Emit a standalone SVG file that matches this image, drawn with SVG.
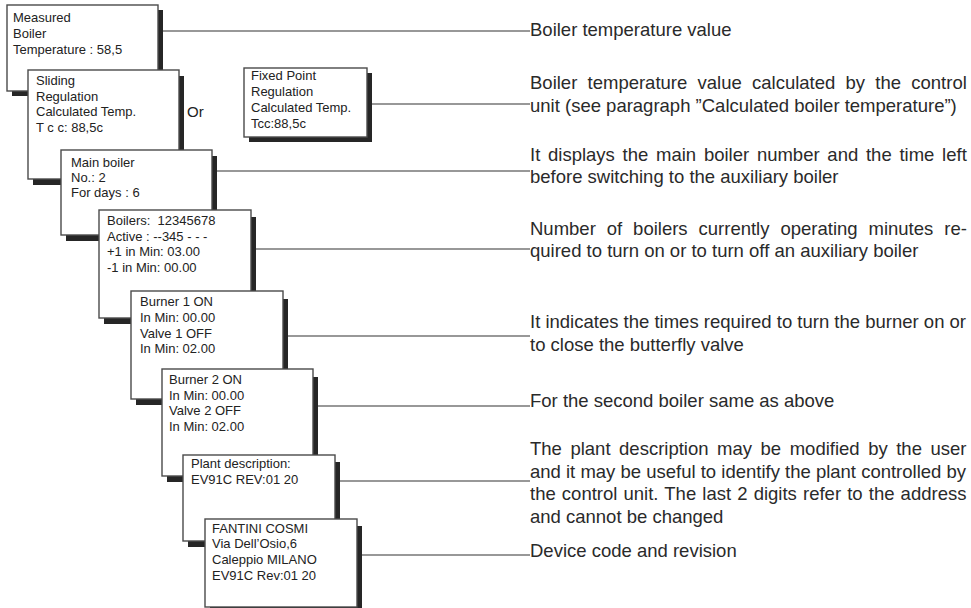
<svg xmlns="http://www.w3.org/2000/svg" width="971" height="608" viewBox="0 0 971 608">
<style>
  .shadow { fill: #262626; }
  .box { fill: #ffffff; stroke: #4a4a4a; stroke-width: 1.4; }
  .bt { font-family: "Liberation Sans", Arial, sans-serif; font-size: 13px; fill: #222; white-space: pre; }
  .note { font-family: "Liberation Sans", Arial, sans-serif; font-size: 18.5px; fill: #2a2a2a; }
  .conn line { stroke: #333; stroke-width: 1.1; }
</style>
<rect width="971" height="608" fill="#ffffff"/>

<g id="connectors" class="conn">
  <line x1="163" y1="31" x2="530" y2="31"/>
  <line x1="372" y1="104" x2="530" y2="104"/>
  <line x1="217" y1="171" x2="530" y2="171"/>
  <line x1="256" y1="249" x2="530" y2="249"/>
  <line x1="288" y1="336" x2="530" y2="336"/>
  <line x1="318" y1="406" x2="530" y2="406"/>
  <line x1="340" y1="481" x2="530" y2="481"/>
  <line x1="362" y1="555" x2="530" y2="555"/>
</g>

<g id="measured">
  <rect class="shadow" x="12" y="10" width="151" height="86"/>
  <rect class="box" x="7" y="5" width="151" height="86"/>
  <text class="bt" x="13"><tspan x="13" y="22">Measured</tspan><tspan x="13" y="38">Boiler</tspan><tspan x="13" y="54">Temperature : 58,5</tspan></text>
</g>

<g id="sliding">
  <rect class="shadow" x="33" y="76" width="151" height="109"/>
  <rect class="box" x="28" y="70" width="151" height="109"/>
  <text class="bt"><tspan x="36" y="85">Sliding</tspan><tspan x="36" y="101">Regulation</tspan><tspan x="36" y="116">Calculated Temp.</tspan><tspan x="36" y="132">T c c: 88,5c</tspan></text>
</g>

<g id="or-label">
  <text class="bt" x="187" y="117" style="font-size:15px">Or</text>
</g>

<g id="fixed-point">
  <rect class="shadow" x="249" y="73" width="123" height="69"/>
  <rect class="box" x="244" y="68" width="123" height="69"/>
  <text class="bt"><tspan x="251" y="80">Fixed Point</tspan><tspan x="251" y="96">Regulation</tspan><tspan x="251" y="112">Calculated Temp.</tspan><tspan x="251" y="128">Tcc:88,5c</tspan></text>
</g>

<g id="main-boiler">
  <rect class="shadow" x="66" y="156" width="151" height="85"/>
  <rect class="box" x="61" y="150" width="151" height="85"/>
  <text class="bt"><tspan x="71" y="167">Main boiler</tspan><tspan x="71" y="182">No.: 2</tspan><tspan x="71" y="197">For days : 6</tspan></text>
</g>

<g id="boilers">
  <rect class="shadow" x="104" y="217" width="152" height="107"/>
  <rect class="box" x="99" y="210" width="152" height="108"/>
  <text class="bt"><tspan x="107" y="225">Boilers:  12345678</tspan><tspan x="107" y="241">Active : --345 - - -</tspan><tspan x="107" y="256">+1 in Min: 03.00</tspan><tspan x="107" y="272">-1 in Min: 00.00</tspan></text>
</g>

<g id="burner-1">
  <rect class="shadow" x="136" y="299" width="152" height="106"/>
  <rect class="box" x="131" y="291" width="152" height="108"/>
  <text class="bt"><tspan x="140" y="306">Burner 1 ON</tspan><tspan x="140" y="322">In Min: 00.00</tspan><tspan x="140" y="338">Valve 1 OFF</tspan><tspan x="140" y="353">In Min: 02.00</tspan></text>
</g>

<g id="burner-2">
  <rect class="shadow" x="167" y="377" width="151" height="105"/>
  <rect class="box" x="162" y="369" width="151" height="107"/>
  <text class="bt"><tspan x="169" y="384">Burner 2 ON</tspan><tspan x="169" y="400">In Min: 00.00</tspan><tspan x="169" y="415">Valve 2 OFF</tspan><tspan x="169" y="431">In Min: 02.00</tspan></text>
</g>

<g id="plant-description">
  <rect class="shadow" x="188" y="462" width="152" height="85"/>
  <rect class="box" x="183" y="455" width="152" height="86"/>
  <text class="bt"><tspan x="191" y="468">Plant description:</tspan><tspan x="191" y="484">EV91C REV:01 20</tspan></text>
</g>

<g id="device-info">
  <rect class="shadow" x="210" y="526" width="152" height="88"/>
  <rect class="box" x="205" y="519" width="152" height="88"/>
  <text class="bt"><tspan x="212" y="533">FANTINI COSMI</tspan><tspan x="212" y="548">Via Dell’Osio,6</tspan><tspan x="212" y="564">Caleppio MILANO</tspan><tspan x="212" y="580">EV91C Rev:01 20</tspan></text>
</g>

<g id="notes">
  <text class="note" x="530" y="36">Boiler temperature value</text>
  <text class="note"><tspan x="530" y="89" word-spacing="5.1">Boiler temperature value calculated by the control</tspan><tspan x="530" y="112">unit (see paragraph ”Calculated boiler temperature”)</tspan></text>
  <text class="note"><tspan x="530" y="161" word-spacing="2.6">It displays the main boiler number and the time left</tspan><tspan x="530" y="183">before switching to the auxiliary boiler</tspan></text>
  <text class="note"><tspan x="530" y="235" word-spacing="5.8">Number of boilers currently operating minutes re-</tspan><tspan x="530" y="257">quired to turn on or to turn off an auxiliary boiler</tspan></text>
  <text class="note"><tspan x="530" y="328">It indicates the times required to turn the burner on or</tspan><tspan x="530" y="351">to close the butterfly valve</tspan></text>
  <text class="note" x="530" y="407">For the second boiler same as above</text>
  <text class="note"><tspan x="530" y="455" word-spacing="3.4">The plant description may be modified by the user</tspan><tspan x="530" y="477.5">and it may be useful to identify the plant controlled by</tspan><tspan x="530" y="500" word-spacing="1">the control unit. The last 2 digits refer to the address</tspan><tspan x="530" y="522.5">and cannot be changed</tspan></text>
  <text class="note" x="530" y="557">Device code and revision</text>
</g>
</svg>
